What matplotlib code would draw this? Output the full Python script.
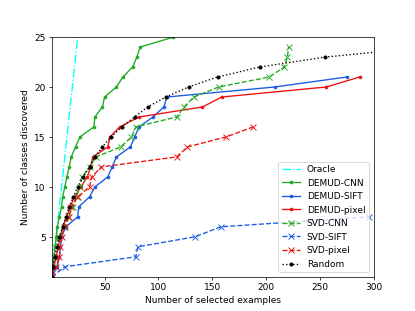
import numpy as np
import matplotlib
matplotlib.use("Agg")
import matplotlib.pyplot as plt

# ----------------------------
# Data
# ----------------------------
oracle_x = list(range(1, 26))
oracle_y = list(range(1, 26))

demud_cnn_x = [1, 2, 3, 4, 5, 6, 8, 10, 11, 13, 15, 17, 19, 23, 27, 40, 41, 48, 50, 61, 67, 76, 80, 83, 114]
demud_cnn_y = list(range(1, 26))

demud_sift_x = [1, 6, 8, 9, 10, 14, 25, 26, 36, 41, 53, 57, 61, 74, 78, 82, 95, 105, 108, 208, 275]
demud_sift_y = list(range(1, 22))

demud_pixel_x = [1, 3, 5, 7, 9, 11, 15, 18, 22, 28, 34, 37, 39, 53, 55, 64, 82, 141, 159, 256, 287]
demud_pixel_y = list(range(1, 22))

svd_cnn_x = [1, 2, 3, 4, 8, 12, 16, 21, 24, 27, 29, 36, 42, 65, 75, 79, 117, 124, 133, 156, 203, 217, 220, 221]
svd_cnn_y = list(range(1, 25))

svd_sift_x = [1, 13, 79, 81, 134, 158, 296]
svd_sift_y = [1, 2, 3, 4, 5, 6, 7]

svd_pixel_x = [1, 5, 8, 9, 10, 13, 17, 19, 25, 36, 38, 47, 117, 127, 163, 188]
svd_pixel_y = list(range(1, 17))

random_x = [1, 2, 3.5, 6, 8, 11, 14, 17, 21, 25, 30, 36, 41, 48, 56, 66, 78, 90, 107, 128, 155, 194, 255, 351]
random_y = list(range(1, 25))

# ----------------------------
# Plot
# ----------------------------
green = "#22aa22"
blue = "#1a5ce6"
red = "#ee1111"

fig, ax = plt.subplots(figsize=(6.4, 4.8), dpi=64.85)

ax.plot(oracle_x, oracle_y, "-.", color="cyan", label="Oracle")
ax.plot(demud_cnn_x, demud_cnn_y, ".-", color=green, label="DEMUD-CNN")
ax.plot(demud_sift_x, demud_sift_y, ".-", color=blue, label="DEMUD-SIFT")
ax.plot(demud_pixel_x, demud_pixel_y, ".-", color=red, label="DEMUD-pixel")
ax.plot(svd_cnn_x, svd_cnn_y, "x--", color=green, label="SVD-CNN")
ax.plot(svd_sift_x, svd_sift_y, "x--", color=blue, label="SVD-SIFT")
ax.plot(svd_pixel_x, svd_pixel_y, "x--", color=red, label="SVD-pixel")
ax.plot(random_x, random_y, "o:", color="black", markersize=3.5, label="Random")

ax.set_xlim(1, 300)
ax.set_ylim(1, 25)
ax.set_xticks([50, 100, 150, 200, 250, 300])
ax.set_yticks([5, 10, 15, 20, 25])
ax.set_xlabel("Number of selected examples")
ax.set_ylabel("Number of classes discovered")
ax.legend(loc="lower right")

plt.savefig("out.png", dpi=64.85)
